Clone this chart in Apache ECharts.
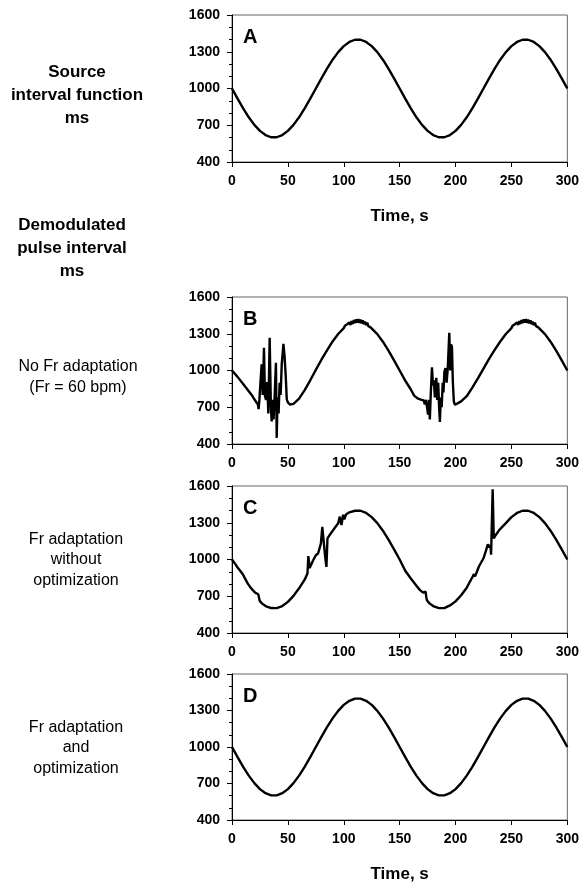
<!DOCTYPE html>
<html>
<head>
<meta charset="utf-8">
<script src="https://cdn.jsdelivr.net/npm/echarts@6/dist/echarts.min.js"></script>
<style>
  html, body { margin: 0; padding: 0; background: #fff; }
  #chart { width: 582px; height: 884px; }
</style>
</head>
<body>
<div id="chart"></div>
<script>
// time axis (s) for the smooth panels A and D
const timeS = [0, 5, 10, 15, 20, 25, 30, 35, 40, 45, 50, 55, 60, 65, 70, 75, 80, 85, 90, 95,
  100, 105, 110, 115, 120, 125, 130, 135, 140, 145, 150, 155, 160, 165, 170, 175, 180, 185, 190, 195,
  200, 205, 210, 215, 220, 225, 230, 235, 240, 245, 250, 255, 260, 265, 270, 275, 280, 285, 290, 295, 300];

// A: source interval function, ms
const sourceMs = [1000, 917, 837, 765, 703, 654, 620, 602, 602, 620, 654, 703, 765, 837, 917, 1000, 1083, 1163, 1235, 1297,
  1346, 1380, 1398, 1398, 1380, 1346, 1297, 1235, 1163, 1083, 1000, 917, 837, 765, 703, 654, 620, 602, 602, 620,
  654, 703, 765, 837, 917, 1000, 1083, 1163, 1235, 1297, 1346, 1380, 1398, 1398, 1380, 1346, 1297, 1235, 1163, 1083, 1000];

// B: no Fr adaptation (Fr = 60 bpm)
const noAdaptTime = [0, 5, 10, 15, 18, 20, 21.5, 22.5, 23.2, 23.8, 24.5, 25.5, 26.5, 27.5, 28.6, 29.5, 30.5, 31.5, 32.5, 33.7,
  34.8, 35.5, 36.3, 37.2, 38.2, 39.3, 40, 40.8, 41.7, 42.6, 43.5, 44.5, 46, 47, 48, 49, 50, 52, 55, 60,
  65, 70, 75, 80, 85, 90, 95, 100, 101, 102, 103, 104, 105, 106, 107, 108, 109, 110, 111, 112,
  113, 114, 115, 116, 117, 118, 119, 120, 121, 122, 123, 124, 125, 130, 135, 140, 145, 150, 155, 160,
  163, 166, 169, 171.5, 172.5, 173.5, 174.5, 175.4, 176.2, 177, 177.8, 178.9, 179.8, 180.6, 181.5, 182.8, 183.6, 184.5, 185.3, 186,
  186.8, 187.6, 188.5, 189.2, 190, 191, 192, 193, 194.4, 195.3, 196, 196.8, 197.6, 198.5, 199.5, 201, 203, 205, 210, 215,
  220, 225, 230, 235, 240, 245, 250, 251, 252, 253, 254, 255, 256, 257, 258, 259, 260, 261, 262, 263,
  264, 265, 266, 267, 268, 269, 270, 271, 272, 273, 274, 275, 280, 285, 290, 295, 300];
const noAdaptMs = [1000, 948, 890, 830, 795, 765, 745, 740, 722, 685, 760, 772, 1050, 800, 1185, 790, 760, 905, 650, 1267,
  700, 585, 760, 600, 800, 1063, 450, 780, 650, 900, 800, 1050, 1218, 1120, 967, 765, 740, 722, 728, 770,
  840, 920, 1005, 1088, 1165, 1237, 1298, 1346, 1365, 1352, 1378, 1362, 1392, 1372, 1403, 1380, 1412, 1386, 1418, 1390,
  1420, 1388, 1416, 1384, 1410, 1378, 1400, 1370, 1390, 1362, 1378, 1352, 1350, 1297, 1235, 1163, 1083, 1000, 917, 845,
  795, 772, 762, 755, 722, 760, 700, 640, 760, 600, 800, 1027, 880, 920, 780, 940, 760, 900, 700, 580,
  780, 700, 900, 820, 990, 1020, 900, 1010, 1308, 1000, 1213, 1190, 900, 745, 720, 730, 738, 748, 790, 860,
  935, 1015, 1095, 1168, 1237, 1298, 1346, 1365, 1352, 1378, 1362, 1392, 1372, 1403, 1380, 1412, 1386, 1418, 1390, 1420,
  1388, 1416, 1384, 1410, 1378, 1400, 1370, 1390, 1362, 1378, 1352, 1350, 1297, 1235, 1163, 1083, 1000];

// C: Fr adaptation without optimization
const adaptTime = [0, 3, 5, 8, 9.8, 10.5, 11.5, 14, 16, 18.8, 21, 22.5, 23.5, 24.3, 24.8, 27, 30, 35, 40, 45,
  50, 55, 60, 65, 67.5, 68.3, 69.5, 70.5, 72.5, 75, 77, 78.5, 79.5, 80.8, 82, 83.5, 84.5, 85.4, 88, 90.5,
  93, 95, 96.4, 97.9, 99.4, 100.5, 102, 105, 110, 115, 120, 125, 130, 135, 140, 145, 150, 155, 160, 165,
  168, 171, 172.5, 173.2, 173.8, 174.5, 176.7, 180, 185, 190, 195, 200, 205, 210, 215, 216.5, 217.5, 221, 225, 227.5,
  228.8, 230, 231.2, 231.8, 233.2, 234.2, 236, 239, 245, 250, 255, 260, 265, 270, 275, 280, 285, 290, 295, 300];
const adaptMs = [1000, 962, 935, 900, 878, 880, 848, 805, 778, 748, 728, 714, 716, 702, 662, 640, 620, 604, 603, 620,
  654, 703, 765, 835, 885, 1028, 930, 952, 992, 1035, 1049, 1052, 1130, 1267, 1150, 1010, 940, 1172, 1208, 1240,
  1272, 1295, 1350, 1282, 1365, 1328, 1368, 1385, 1398, 1398, 1380, 1346, 1297, 1235, 1163, 1083, 1000, 908, 845, 785,
  752, 730, 722, 738, 692, 665, 642, 620, 603, 603, 625, 658, 708, 770, 855, 880, 862, 945, 1010, 1080,
  1124, 1098, 1118, 1040, 1573, 1172, 1200, 1240, 1297, 1346, 1380, 1398, 1398, 1380, 1346, 1297, 1235, 1163, 1083, 1000];

// D: Fr adaptation and optimization
const optimizedMs = [1000, 917, 837, 765, 703, 654, 620, 602, 602, 620, 654, 703, 765, 837, 917, 1000, 1083, 1163, 1235, 1297,
  1346, 1380, 1398, 1398, 1380, 1346, 1297, 1235, 1163, 1083, 1000, 917, 837, 765, 703, 654, 620, 602, 602, 620,
  654, 703, 765, 837, 917, 1000, 1083, 1163, 1235, 1297, 1346, 1380, 1398, 1398, 1380, 1346, 1297, 1235, 1163, 1083, 1000];

const xTicks = [0, 50, 100, 150, 200, 250, 300];
const yTicks = [400, 700, 1000, 1300, 1600];
const panelLetters = ['A', 'B', 'C', 'D'];

const FONT = "'Liberation Sans', Arial, Helvetica, sans-serif";
const gridTops = [15, 297, 486, 674];
const PLOT_H = 147;

const chart = echarts.init(document.getElementById('chart'), null, { renderer: 'canvas' });

function pairs(t, v) {
  return t.map((x, i) => [x, v[i]]);
}

const panels = [
  pairs(timeS, sourceMs),
  pairs(noAdaptTime, noAdaptMs),
  pairs(adaptTime, adaptMs),
  pairs(timeS, optimizedMs)
];

const yMin = yTicks[0];
const yMax = yTicks[yTicks.length - 1];
const yStep = yTicks[1] - yTicks[0];
const xStep = xTicks[1] - xTicks[0];

const grids = [], xAxes = [], yAxes = [], series = [];
gridTops.forEach((top, i) => {
  grids.push({
    left: 232, right: 14, top: top, height: PLOT_H,
    show: true, borderColor: '#666', borderWidth: 1
  });
  const withName = (i === 0 || i === 3);
  xAxes.push({
    gridIndex: i, type: 'value',
    min: xTicks[0], max: xTicks[xTicks.length - 1], interval: xStep,
    name: withName ? 'Time, s' : '',
    nameLocation: 'middle', nameGap: 46,
    nameTextStyle: { fontFamily: FONT, fontWeight: 'bold', fontSize: 17, color: '#000' },
    axisLine: { onZero: false, lineStyle: { color: '#000', width: 1 } },
    axisTick: { length: 5, lineStyle: { color: '#000' } },
    axisLabel: { margin: 12, fontFamily: FONT, fontWeight: 'bold', fontSize: 14, color: '#000' },
    splitLine: { show: false }
  });
});
// data axes (hidden)
gridTops.forEach((top, i) => {
  yAxes.push({ gridIndex: i, type: 'value', position: 'left', min: yMin, max: yMax, show: false });
});
// visible label axes, counted from zero so ticks land on 400, 700, ...
gridTops.forEach((top, i) => {
  yAxes.push({
    gridIndex: i, type: 'value', position: 'left',
    min: 0, max: yMax - yMin, interval: yStep,
    axisLine: { show: true, onZero: false, lineStyle: { color: '#000', width: 1 } },
    axisTick: { show: true, length: 5, lineStyle: { color: '#000' } },
    minorTick: { show: true, splitNumber: 3, length: 3, lineStyle: { color: '#000' } },
    axisLabel: {
      margin: 12, fontFamily: FONT, fontWeight: 'bold', fontSize: 14, color: '#000',
      formatter: v => String(v + yMin)
    },
    splitLine: { show: false }
  });
});

panels.forEach((data, i) => {
  series.push({
    type: 'line', xAxisIndex: i, yAxisIndex: i,
    data: data, symbol: 'none', smooth: false,
    lineStyle: { color: '#000', width: 2.4 },
    animation: false
  });
});

const graphic = [];
panelLetters.forEach((letter, i) => {
  graphic.push({
    type: 'text', left: 243, top: gridTops[i] + 12,
    style: { text: letter, font: 'bold 20px ' + FONT, fill: '#000' }
  });
});

function label(text, x, y, bold, size, lh) {
  graphic.push({
    type: 'text', x: x, y: y,
    style: {
      text: text, fill: '#000', align: 'center', verticalAlign: 'middle',
      font: (bold ? 'bold ' : '') + size + 'px ' + FONT, lineHeight: lh
    }
  });
}
label('Source\ninterval function\nms', 77, 95, true, 17, 23);
label('Demodulated\npulse interval\nms', 72, 248, true, 17, 23);
label('No Fr adaptation\n(Fr = 60 bpm)', 78, 377, false, 16, 20.5);
label('Fr adaptation\nwithout\noptimization', 76, 560, false, 16, 20.5);
label('Fr adaptation\nand\noptimization', 76, 748, false, 16, 20.5);

chart.setOption({
  animation: false,
  backgroundColor: '#fff',
  grid: grids,
  xAxis: xAxes,
  yAxis: yAxes,
  series: series,
  graphic: graphic
});
</script>
</body>
</html>
